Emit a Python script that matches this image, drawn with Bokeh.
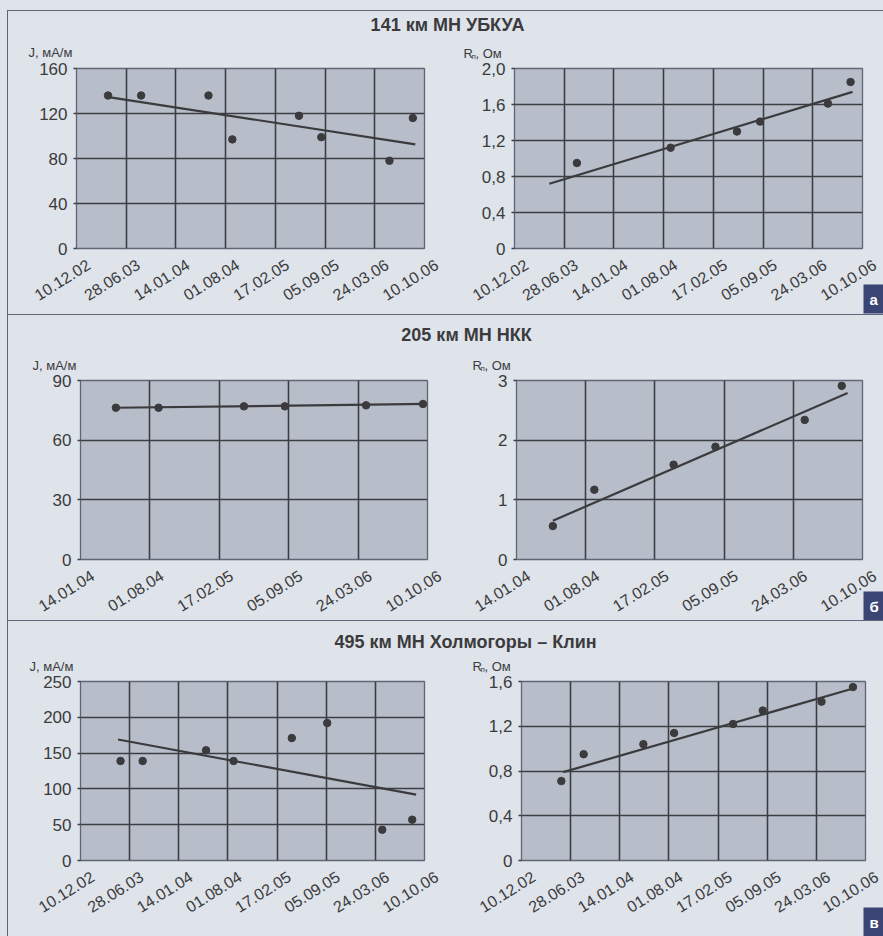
import pandas as pd
from bokeh.plotting import figure
from bokeh.models import (ColumnDataSource, FixedTicker, Range1d, Label, Spacer,
                          GlobalInlineStyleSheet)
from bokeh.layouts import row, column
from bokeh.embed import file_html
from bokeh.resources import INLINE

# ---------------- data ----------------
section_titles = ["141 км МН УБКУА", "205 км МН НКК", "495 км МН Холмогоры – Клин"]
section_letters = ["а", "б", "в"]

x_labels_long = ["10.12.02", "28.06.03", "14.01.04", "01.08.04",
                 "17.02.05", "05.09.05", "24.03.06", "10.10.06"]
x_labels_short = ["14.01.04", "01.08.04", "17.02.05", "05.09.05", "24.03.06", "10.10.06"]

j_ticks_a = [0, 40, 80, 120, 160]
r_ticks_a = [0, 0.4, 0.8, 1.2, 1.6, 2.0]
r_labels_a = ["0", "0,4", "0,8", "1,2", "1,6", "2,0"]
j_ticks_b = [0, 30, 60, 90]
r_ticks_b = [0, 1, 2, 3]
r_labels_b = ["0", "1", "2", "3"]
j_ticks_c = [0, 50, 100, 150, 200, 250]
r_ticks_c = [0, 0.4, 0.8, 1.2, 1.6]
r_labels_c = ["0", "0,4", "0,8", "1,2", "1,6"]

# section а (141 km)
j_dates_a = ["16.04.03", "27.08.03", "24.05.04", "28.08.04", "23.05.05", "21.08.05", "22.05.06", "24.08.06"]
j_values_a = [136, 136, 136, 97, 118, 99, 78, 116]
j_trend_dates_a = ["25.04.03", "03.09.06"]
j_trend_values_a = [134.4, 92.5]

r_dates_a = ["18.08.03", "29.08.04", "23.05.05", "24.08.05", "24.05.06", "23.08.06"]
r_values_a = [0.95, 1.12, 1.30, 1.41, 1.61, 1.85]
r_trend_dates_a = ["29.04.03", "31.08.06"]
r_trend_values_a = [0.72, 1.74]

# section б (205 km)
j_dates_b = ["25.04.04", "26.08.04", "29.04.05", "25.08.05", "16.04.06", "27.09.06"]
j_values_b = [76.3, 76.3, 77.0, 77.0, 77.5, 78.2]
j_trend_dates_b = ["25.04.04", "07.10.06"]
j_trend_values_b = [76.3, 78.2]

r_dates_b = ["28.04.04", "26.08.04", "12.04.05", "11.08.05", "26.04.06", "11.08.06"]
r_values_b = [0.56, 1.17, 1.59, 1.89, 2.34, 2.91]
r_trend_dates_b = ["28.04.04", "28.08.06"]
r_trend_values_b = [0.65, 2.79]

# section в (495 km)
j_dates_c = ["22.05.03", "20.08.03", "04.05.04", "24.08.04", "18.04.05", "09.09.05", "21.04.06", "21.08.06"]
j_values_c = [139, 139, 154, 139, 171, 192, 43, 57]
j_trend_dates_c = ["12.05.03", "06.09.06"]
j_trend_values_c = [169, 92]

r_dates_c = ["21.05.03", "20.08.03", "19.04.04", "22.08.04", "19.04.05", "18.08.05", "14.04.06", "20.08.06"]
r_values_c = [0.71, 0.95, 1.04, 1.14, 1.22, 1.34, 1.42, 1.55]
r_trend_dates_c = ["29.05.03", "24.08.06"]
r_trend_values_c = [0.79, 1.54]

# ---------------- style ----------------
PAPER = "#dfe3ea"
FRAME_FILL = "#b7bec9"
GRID = "#3d3e43"
INK = "#3b3b3d"
RULE = "#5d6678"
NAVY = "#3b4574"
NARROW = "'Liberation Sans Narrow', 'Arial Narrow', 'Liberation Sans', sans-serif"
BOLD = "'Liberation Sans', Arial, sans-serif"
ANGLE = 0.56
BODY_X = 8            # page x where the body column starts
FULL_W = 875
LEFT_W, RIGHT_W = 432, 443
PANEL_BOTTOM = 11     # canvas space under each plot frame
OVERLAP = 5           # the label strip slides up over the panel's bottom border


def to_ms(labels):
    idx = pd.to_datetime(labels, format="%d.%m.%y")
    return (idx.astype("int64") // 10**6).astype(float).tolist()


def make_panel(xlabels, yticks, ylabels, dates, values, tdates, tvalues,
               width, bl, br, fh):
    xt = to_ms(xlabels)
    height = 8 + fh + PANEL_BOTTOM
    p = figure(width=width, height=height, output_backend="svg", toolbar_location=None,
               x_range=Range1d(xt[0], xt[-1]), y_range=Range1d(yticks[0], yticks[-1]),
               x_axis_location=None,
               min_border_left=bl, min_border_right=br, min_border_top=8,
               min_border_bottom=PANEL_BOTTOM,
               background_fill_color=FRAME_FILL, border_fill_color=PAPER,
               outline_line_color="#5f6675", outline_line_width=1.3)
    xtick = FixedTicker(ticks=xt)
    ytick = FixedTicker(ticks=yticks)
    p.yaxis.ticker = ytick
    p.ygrid.ticker = ytick
    p.xgrid.ticker = xtick
    p.yaxis.major_label_overrides = dict(zip([float(v) for v in yticks], ylabels))
    ax = p.yaxis[0]
    ax.major_label_text_font = NARROW
    ax.major_label_text_font_size = "17px"
    ax.major_label_text_color = INK
    ax.major_tick_out = 3
    ax.major_tick_in = 0
    ax.minor_tick_line_color = None
    ax.major_tick_line_color = GRID
    ax.major_tick_line_width = 1.3
    ax.axis_line_color = None
    ax.major_label_standoff = 6
    p.grid.grid_line_color = GRID
    p.grid.grid_line_width = 1.6

    src = ColumnDataSource(dict(x=to_ms(dates), y=values))
    tsrc = ColumnDataSource(dict(x=to_ms(tdates), y=tvalues))
    p.line("x", "y", source=tsrc, line_color=INK, line_width=2.2)
    p.scatter("x", "y", source=src, size=7.5, fill_color=INK, line_color=INK)
    k = (xt[-1] - xt[0]) / (width - bl - br)
    return p, xt, k


def header_fig(title, title_cx, h, title_y, axis_labels):
    t = figure(width=FULL_W, height=h, output_backend="svg", toolbar_location=None,
               x_range=Range1d(0, 1), y_range=Range1d(0, 1),
               x_axis_location=None, y_axis_location=None,
               min_border=0, background_fill_color=PAPER, border_fill_color=PAPER,
               outline_line_color=None)
    t.grid.visible = False
    t.add_layout(Label(x=title_cx - BODY_X, y=title_y, x_units="screen", y_units="screen", text=title,
                       text_align="center", text_baseline="middle", text_font=BOLD,
                       text_font_style="bold", text_font_size="18px", text_color=INK))
    for kind, px, py in axis_labels:
        sx = px - BODY_X
        if kind == "J":
            t.add_layout(Label(x=sx, y=py, x_units="screen", y_units="screen",
                               text="J, мА/м", text_font=NARROW, text_font_size="13px",
                               text_color=INK, text_baseline="alphabetic"))
        else:
            t.add_layout(Label(x=sx, y=py, x_units="screen", y_units="screen",
                               text="R", text_font=NARROW, text_font_size="13px",
                               text_color=INK, text_baseline="alphabetic"))
            t.add_layout(Label(x=sx + 8, y=py - 3, x_units="screen", y_units="screen",
                               text="п", text_font=NARROW, text_font_size="8px",
                               text_color=INK, text_baseline="alphabetic"))
            t.add_layout(Label(x=sx + 12, y=py, x_units="screen", y_units="screen",
                               text=", Ом", text_font=NARROW, text_font_size="13px",
                               text_color=INK, text_baseline="alphabetic"))
    return t


def strip_fig(h, left, right, letter, letter_y):
    # left / right: (tick_ms, labels, ms_per_px, frame_left_offset_in_strip, frame_right_page)
    xt_l, lab_l, k_l, off_l, _ = left
    xt_r, lab_r, k_r, off_r, fr_right = right
    s0 = xt_l[0] - off_l * k_l
    r0 = xt_r[0] - off_r * k_r
    s = figure(width=FULL_W, height=h, output_backend="svg", toolbar_location=None,
               x_range=Range1d(s0, s0 + FULL_W * k_l), y_range=Range1d(0, 1),
               x_axis_location=None, y_axis_location=None,
               min_border=0, background_fill_color=None, border_fill_color=None,
               outline_line_color=None, margin=(-OVERLAP, 0, 0, 0))
    s.extra_x_ranges = {"right": Range1d(r0, r0 + FULL_W * k_r)}
    s.grid.visible = False
    ymid = h - 8.5
    for xv, txt in zip(xt_l, lab_l):
        s.add_layout(Label(x=xv, y=ymid, x_units="data", y_units="screen", text=txt,
                           x_offset=12, angle=ANGLE, text_align="right", text_baseline="middle",
                           text_font=NARROW, text_font_size="16px", text_color=INK))
    for i, (xv, txt) in enumerate(zip(xt_r, lab_r)):
        xo = 12
        if i == len(xt_r) - 1:
            xo = min(12, 883 - 7 - fr_right)
        s.add_layout(Label(x=xv, y=ymid, x_units="data", y_units="screen", text=txt,
                           x_range_name="right",
                           x_offset=xo, angle=ANGLE, text_align="right", text_baseline="middle",
                           text_font=NARROW, text_font_size="16px", text_color=INK))
    s.add_layout(Label(x=863 - BODY_X, y=letter_y, x_units="screen", y_units="screen",
                       text=letter, text_font=BOLD, text_font_style="bold",
                       text_font_size="15px", text_color="white",
                       text_baseline="bottom", text_align="left",
                       background_fill_color=NAVY, padding=6))
    return s


def hline():
    return Spacer(width=FULL_W, height=1, margin=0, styles={"background-color": RULE})


# panel geometry: (canvas width, left border, right border, frame height)
p1, xt1, k1 = make_panel(x_labels_long, j_ticks_a, [str(v) for v in j_ticks_a], j_dates_a, j_values_a,
                         j_trend_dates_a, j_trend_values_a, LEFT_W, 68, 16, 180)
p2, xt2, k2 = make_panel(x_labels_long, r_ticks_a, r_labels_a, r_dates_a, r_values_a,
                         r_trend_dates_a, r_trend_values_a, RIGHT_W, 74, 21, 180)
p3, xt3, k3 = make_panel(x_labels_short, j_ticks_b, [str(v) for v in j_ticks_b], j_dates_b, j_values_b,
                         j_trend_dates_b, j_trend_values_b, LEFT_W, 72, 13, 179)
p4, xt4, k4 = make_panel(x_labels_short, r_ticks_b, r_labels_b, r_dates_b, r_values_b,
                         r_trend_dates_b, r_trend_values_b, RIGHT_W, 76, 21, 179)
p5, xt5, k5 = make_panel(x_labels_long, j_ticks_c, [str(v) for v in j_ticks_c], j_dates_c, j_values_c,
                         j_trend_dates_c, j_trend_values_c, LEFT_W, 72, 16, 179)
p6, xt6, k6 = make_panel(x_labels_long, r_ticks_c, r_labels_c, r_dates_c, r_values_c,
                         r_trend_dates_c, r_trend_values_c, RIGHT_W, 81, 18, 179)

h1 = header_fig(section_titles[0], 447, 49, 36, [("J", 28, 8), ("R", 463, 7)])
h2 = header_fig(section_titles[1], 466, 57, 38, [("J", 32, 7), ("R", 472, 7)])
h3 = header_fig(section_titles[2], 465, 52, 32, [("J", 29, 7), ("R", 472, 7)])

s1 = strip_fig(60, (xt1, x_labels_long, k1, 68, None),
               (xt2, x_labels_long, k2, LEFT_W + 74, 440 + 74 + 348), section_letters[0], 1)
s2 = strip_fig(55, (xt3, x_labels_short, k3, 72, None),
               (xt4, x_labels_short, k4, LEFT_W + 76, 440 + 76 + 346), section_letters[1], 0)
s3 = strip_fig(70, (xt5, x_labels_long, k5, 72, None),
               (xt6, x_labels_long, k6, LEFT_W + 81, 440 + 81 + 344), section_letters[2], 0)

body = column(
    Spacer(width=FULL_W, height=10, margin=0, styles={"background-color": PAPER}),
    hline(), h1, row(p1, p2), s1,
    hline(), h2, row(p3, p4), s2,
    hline(), h3, row(p5, p6), s3,
    spacing=0)
left_edge = column(
    Spacer(width=1, height=10, margin=0, styles={"background-color": PAPER}),
    Spacer(width=1, height=926, margin=0, styles={"background-color": RULE}),
    spacing=0)
margin_col = Spacer(width=7, height=936, margin=0, styles={"background-color": PAPER})
root = row(margin_col, left_edge, body, spacing=0)
root.stylesheets = [GlobalInlineStyleSheet(
    css="html, body { background-color: #dfe3ea; margin: 0; overflow: hidden; }")]

open("out.html", "w").write(file_html(root, INLINE))
